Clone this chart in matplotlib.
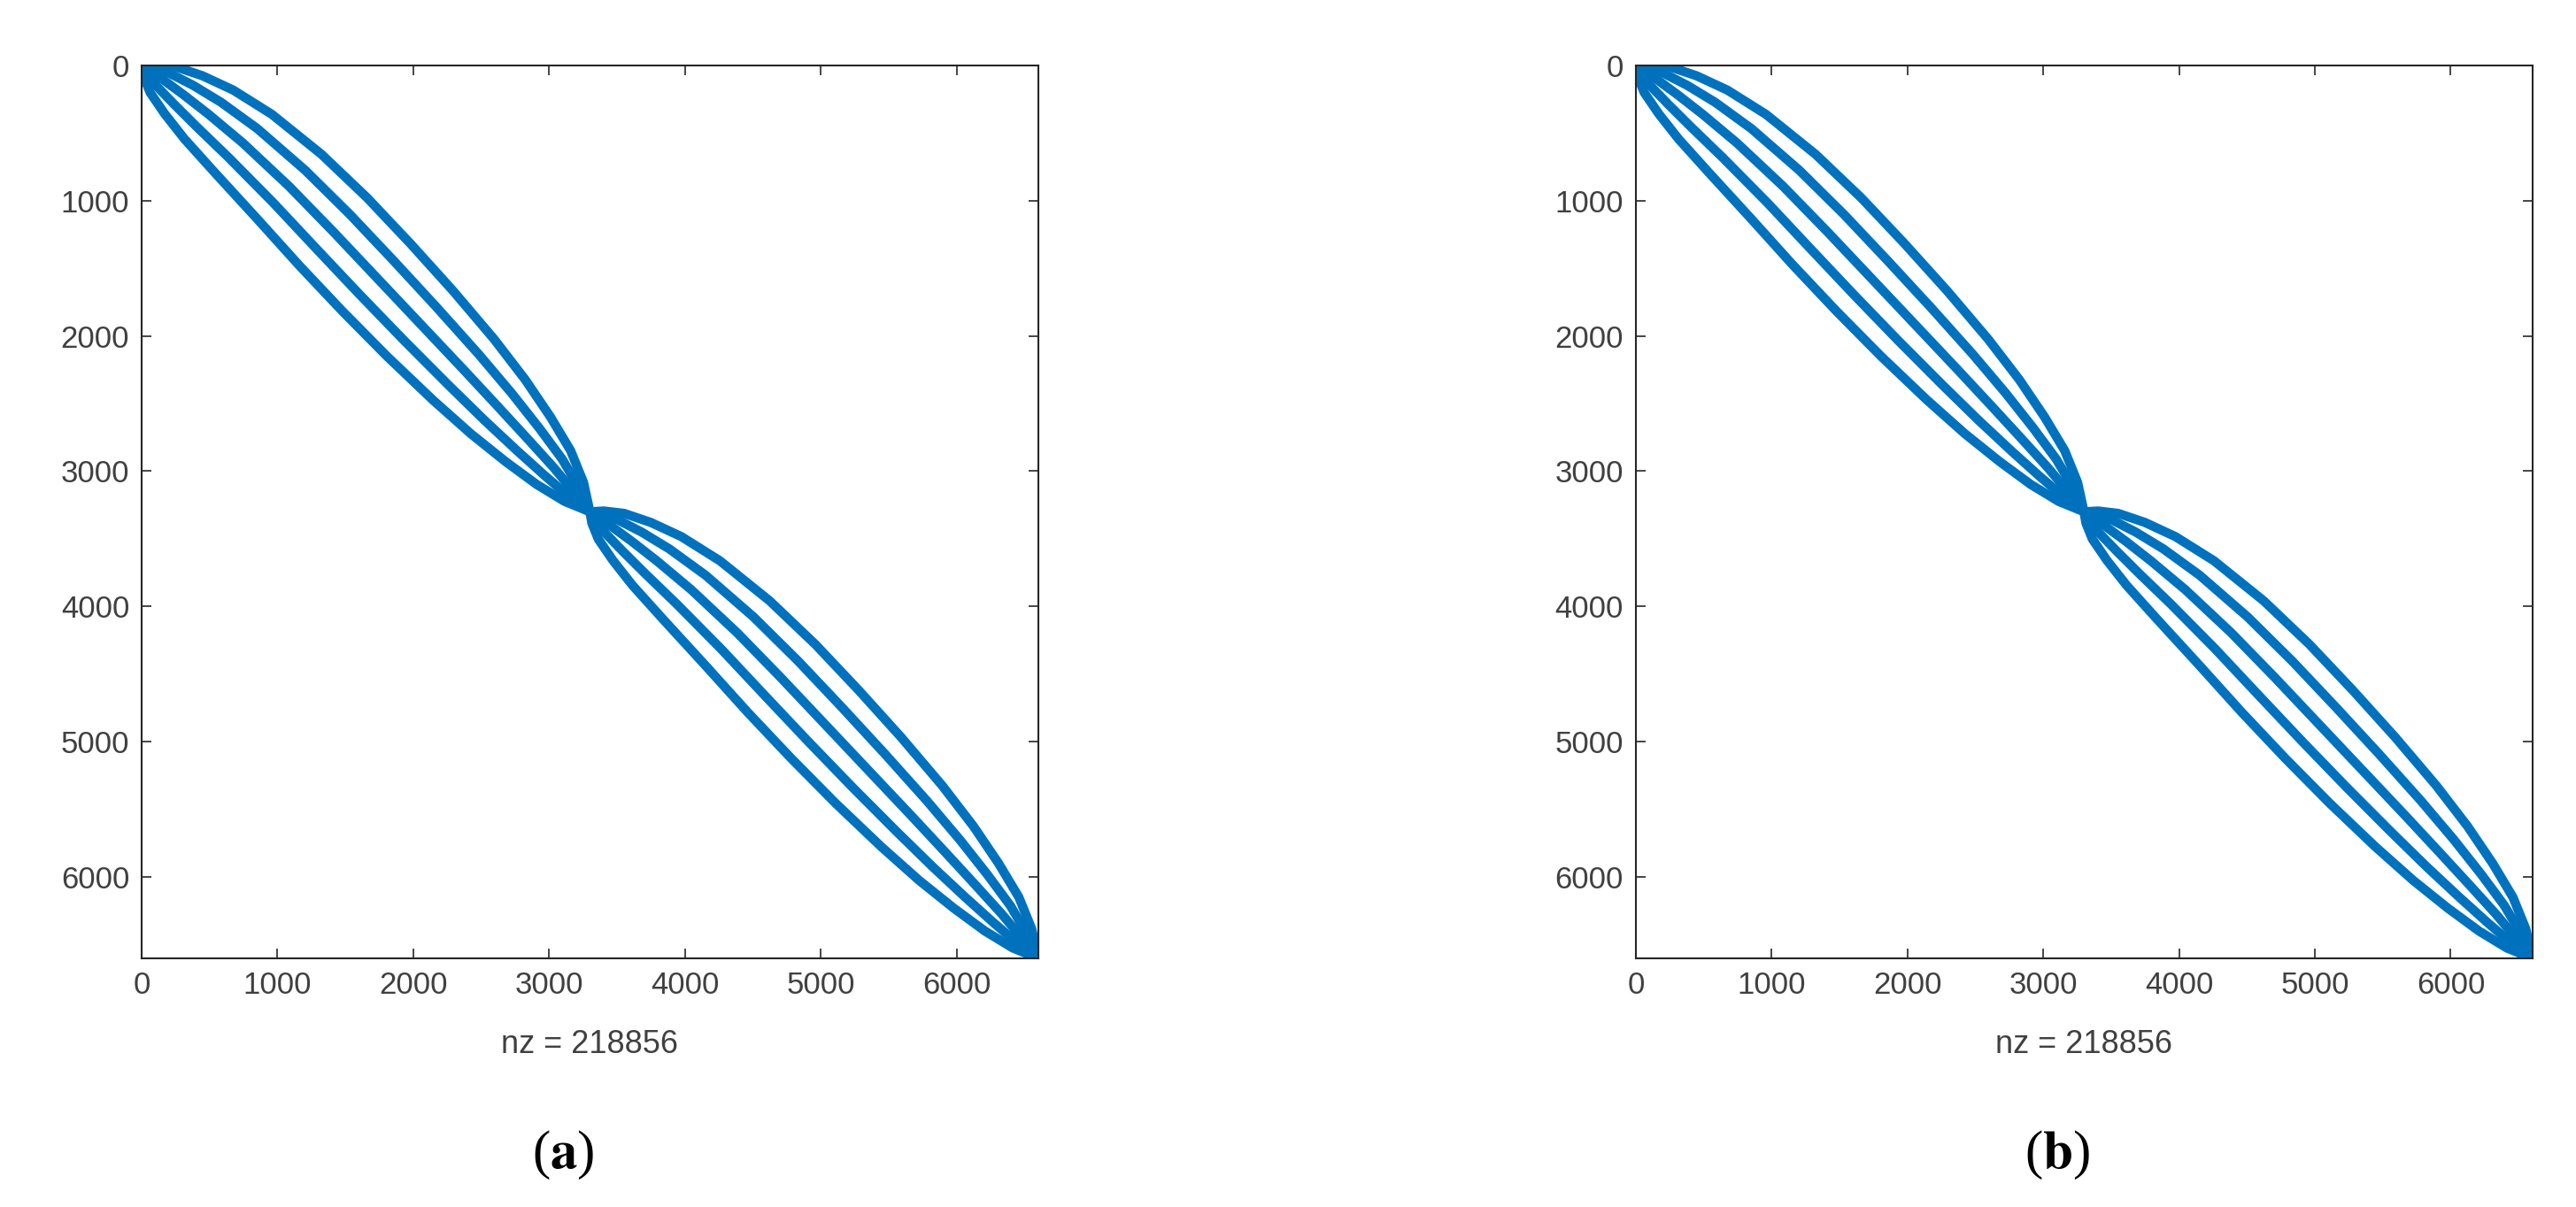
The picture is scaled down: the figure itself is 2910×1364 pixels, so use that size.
import numpy as np
import matplotlib.pyplot as plt

plt.rcParams['mathtext.fontset'] = 'stix'

N = 6600
NZ = 218856
HALF_STARTS = [0, 3300]
HALF_LEN = 3300
# fraction along each half block, relative band spread, and shift of the band centre (columns)
PROFILE_S = [0.0, 0.015, 0.04, 0.08, 0.13, 0.2, 0.3, 0.4, 0.5, 0.6, 0.7, 0.78, 0.85, 0.91, 0.96, 1.0]
PROFILE_F = [0.0, 0.18, 0.38, 0.56, 0.72, 0.85, 0.95, 1.0, 1.0, 0.97, 0.9, 0.8, 0.66, 0.5, 0.28, 0.0]
CENTER_SHIFT = [0, 20, 50, 90, 130, 170, 190, 180, 160, 140, 120, 100, 80, 60, 30, 0]
# horizontal offset (columns) of the five bands at widest point
BAND_OFFSETS = [-500, -250, 0, 250, 500]
PANELS = ['a', 'b']
AX_LEFT = [0.055, 0.635]

BLUE = '#0072BD'
GREY = '#404040'

fig = plt.figure(figsize=(29.10, 13.64), dpi=100)

for label, left in zip(PANELS, AX_LEFT):
    ax = fig.add_axes([left, 0.206, 0.348, 0.740])
    s = np.array(PROFILE_S)
    f = np.array(PROFILE_F)
    c = np.array(CENTER_SHIFT)
    for start in HALF_STARTS:
        t = start + s * HALF_LEN
        for off in BAND_OFFSETS:
            d = off * f + c
            ax.plot(t + d / 2, t - d / 2, color=BLUE, lw=7.5,
                    solid_capstyle='round', solid_joinstyle='round')
    ax.set_xlim(0, N)
    ax.set_ylim(N, 0)
    ax.set_xticks(range(0, 7000, 1000))
    ax.set_yticks(range(0, 7000, 1000))
    ax.tick_params(direction='in', length=8, width=1.2, top=True, right=True,
                   labelsize=25, colors='#262626', labelcolor=GREY, pad=10)
    for lab in ax.get_xticklabels() + ax.get_yticklabels():
        lab.set_family('Liberation Sans')
    for sp in ax.spines.values():
        sp.set_linewidth(1.5)
        sp.set_color('#262626')
    ax.set_xlabel(f'nz = {NZ}', fontsize=26, color=GREY, family='Liberation Sans', labelpad=24)
    fig.text(left + 0.348 * 0.47, 0.043, '(' + r'$\mathbf{' + label + '}$' + ')',
             ha='center', va='center', fontsize=44, family='Liberation Serif')

fig.savefig('out.png', dpi=100)
